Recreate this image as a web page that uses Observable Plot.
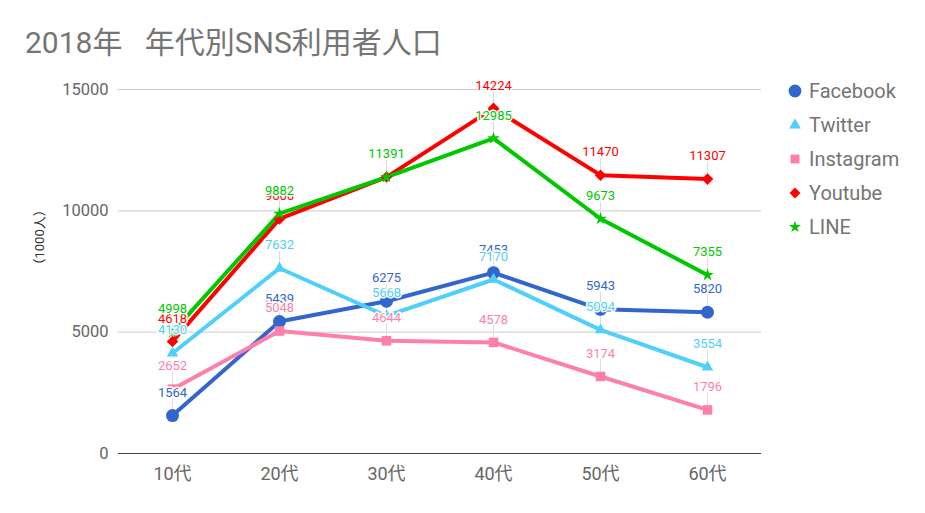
<!DOCTYPE html>
<html>
<head>
<meta charset="utf-8">
<script src="https://cdn.jsdelivr.net/npm/d3@7"></script>
<script src="https://cdn.jsdelivr.net/npm/@observablehq/plot@0.6"></script>
<style>
  html, body { margin: 0; padding: 0; background: #fff; }
  body { width: 925px; height: 513px; position: relative; overflow: hidden; font-family: Roboto, "Noto Sans CJK JP", sans-serif; }
  #title { position: absolute; left: 25px; top: 25px; font-size: 30px; line-height: 36px; color: #757575; white-space: pre; }
  #chart { position: absolute; left: 0; top: 0; }
  #legend { position: absolute; left: 787px; top: 74px; }
  .item { display: flex; align-items: center; height: 34px; font-size: 20px; color: #757575; }
  .item svg { margin-right: 6px; }
</style>
</head>
<body>
<div id="chart"></div>
<div id="title"></div>
<div id="legend"></div>
<script>
const titleText = "2018年   年代別SNS利用者人口";
const yLabel = "（1000人）";
const ages = ["10代", "20代", "30代", "40代", "50代", "60代"];
const seriesNames = ["Facebook", "Twitter", "Instagram", "Youtube", "LINE"];
const facebook = [1564, 5439, 6275, 7453, 5943, 5820];
const twitter = [4130, 7632, 5668, 7170, 5094, 3554];
const instagram = [2652, 5048, 4644, 4578, 3174, 1796];
const youtube = [4618, 9666, 11391, 14224, 11470, 11307];
const line = [4998, 9882, 11391, 12985, 9673, 7355];
const yTicks = [0, 5000, 10000, 15000];
const colors = ["#3366cc", "#4fd0fb", "#ff7fab", "#ff0000", "#00c800"];
const symbols = ["circle", "triangle", "square", "diamond2", "star"];
const markerSizes = [6.5, 4.3, 5.4, 5.2, 4.0];

const valueLists = [facebook, twitter, instagram, youtube, line];
const data = seriesNames.flatMap((s, i) => ages.map((a, j) => ({series: s, age: a, value: valueLists[i][j], size: markerSizes[i]})));

const leader = {draw(context, l) { context.moveTo(0, 0); context.lineTo(0, -l); }};

const chart = Plot.plot({
  width: 925,
  height: 513,
  marginLeft: 118,
  marginRight: 164,
  marginTop: 89,
  marginBottom: 60,
  style: {fontFamily: "Roboto, 'Noto Sans CJK JP', sans-serif", background: "transparent"},
  x: {type: "point", domain: ages, padding: 0.5, label: null, tickSize: 0, tickPadding: 14},
  y: {domain: [0, 15000], ticks: yTicks, tickFormat: d => String(d), label: null, tickSize: 0, tickPadding: 10},
  r: {type: "identity"},
  color: {domain: seriesNames, range: colors},
  symbol: {domain: seriesNames, range: symbols},
  marks: [
    Plot.ruleY(yTicks.filter(d => d > 0), {stroke: "#cccccc", strokeWidth: 1}),
    Plot.ruleY([0], {stroke: "#444", strokeWidth: 1}),
    Plot.vector(data, {x: "age", y: "value", length: 17, rotate: 0, anchor: "start", shape: leader, stroke: "#dddddd", strokeWidth: 1}),
    Plot.line(data, {x: "age", y: "value", z: "series", stroke: "series", strokeWidth: 4, strokeLinejoin: "miter"}),
    Plot.dot(data, {x: "age", y: "value", fill: "series", symbol: "series", r: "size", stroke: "none"}),
    Plot.text(data, {x: "age", y: "value", text: d => String(d.value), fill: "series", dy: -23, fontSize: 13, stroke: "white", strokeWidth: 3}),
    Plot.text([yLabel], {frameAnchor: "left", text: d => d, rotate: -90, dx: -79, fontSize: 13, fill: "#333"})
  ]
});
chart.querySelectorAll("g[aria-label='y-axis tick label']").forEach(g => { g.setAttribute("fill", "#666"); g.setAttribute("font-size", "16.5"); });
chart.querySelectorAll("g[aria-label='x-axis tick label']").forEach(g => { g.setAttribute("fill", "#666"); g.setAttribute("font-size", "18"); });
document.getElementById("chart").appendChild(chart);
document.getElementById("title").textContent = titleText;

const symbolMap = {circle: d3.symbolCircle, triangle: d3.symbolTriangle, square: d3.symbolSquare, diamond2: d3.symbolDiamond2, star: d3.symbolStar};
const legendSizes = [130, 60, 80, 75, 45];
const legend = d3.select("#legend");
seriesNames.forEach((s, i) => {
  const item = legend.append("div").attr("class", "item");
  const svg = item.append("svg").attr("width", 16).attr("height", 16);
  svg.append("path")
    .attr("transform", "translate(8,8)")
    .attr("d", d3.symbol(symbolMap[symbols[i]], legendSizes[i])())
    .attr("fill", colors[i]);
  item.append("span").text(s);
});
</script>
</body>
</html>
